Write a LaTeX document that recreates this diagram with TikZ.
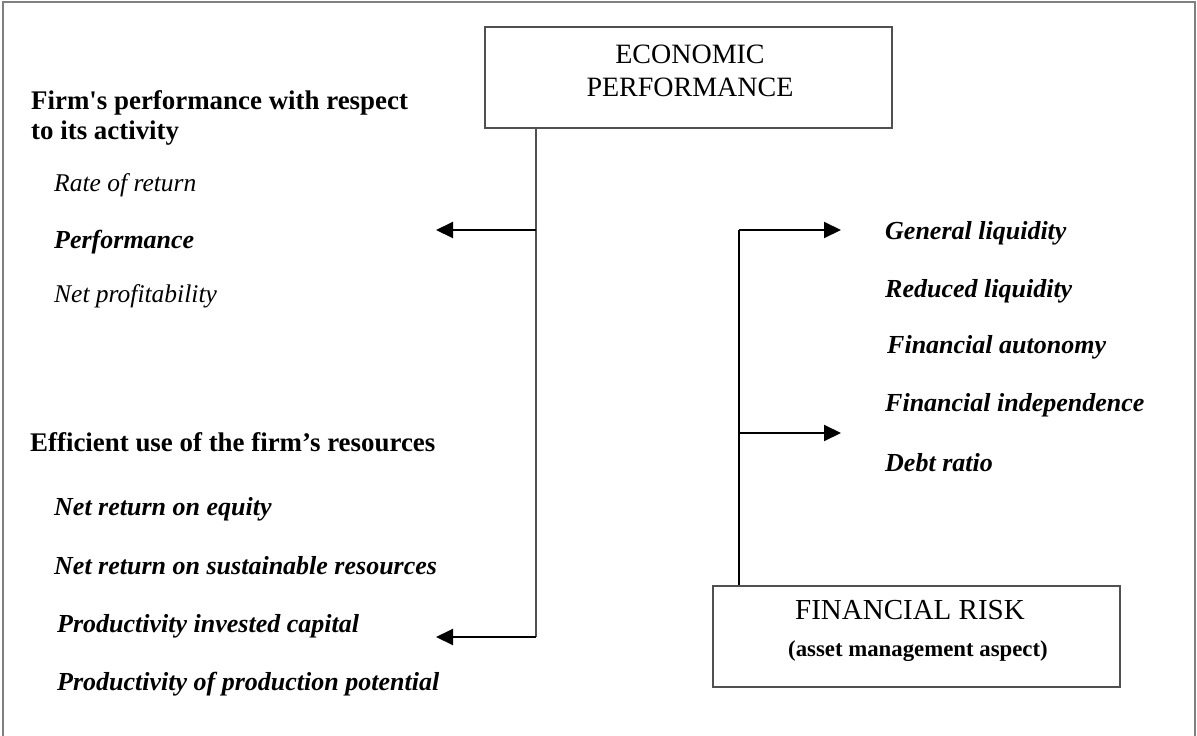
\documentclass[tikz,border=0pt]{standalone}
\usepackage{fontspec}
\setmainfont{Liberation Serif}
\usetikzlibrary{arrows.meta}
\definecolor{framegray}{HTML}{808080}
\definecolor{boxgray}{HTML}{505050}
\tikzset{
  x=1pt, y=-1pt,
  box/.style={draw=boxgray, line width=1.5pt, inner sep=0pt},
  boxtext/.style={anchor=base, inner sep=0pt, font=\fontsize{28}{33}\selectfont},
  subtext/.style={anchor=base, inner sep=0pt, font=\fontsize{22.8}{27}\selectfont\bfseries},
  head/.style={anchor=base west, inner sep=0pt, font=\fontsize{26.9}{30}\selectfont\bfseries},
  itm/.style={anchor=base west, inner sep=0pt, font=\fontsize{25.5}{30}\selectfont\itshape},
  itmb/.style={anchor=base west, inner sep=0pt, font=\fontsize{26}{30}\selectfont\bfseries\itshape},
  arr/.style={line width=2pt, -{Triangle[length=17pt,width=16pt]}},
  vline/.style={line width=1.5pt, draw=boxgray},
}
\begin{document}
\begin{tikzpicture}
\useasboundingbox (0,0) rectangle (1197,736);
% outer frame
\draw[framegray, line width=1.6pt] (3,737) -- (3,2) -- (1195,2) -- (1195,737);

% boxes
\node[box, minimum width=407pt, minimum height=101pt] (econ) at (688.5,77.5) {};
\node[boxtext] (econ1) at (690,63) {ECONOMIC};
\node[boxtext] (econ2) at (690,96) {PERFORMANCE};

\node[box, minimum width=407pt, minimum height=101pt] (risk) at (916.5,636.5) {};
\node[boxtext, font=\fontsize{29}{33}\selectfont] (risk1) at (910,619) {FINANCIAL RISK};
\node[subtext] (risk2) at (918,656) {(asset management aspect)};

% left texts
\node[head] (h1a) at (31,109) {Firm\textquotesingle s performance with respect};
\node[head] (h1b) at (31,139) {to its activity};
\node[itm]  (l1) at (54,191) {Rate of return};
\node[itmb] (l2) at (54,248) {Performance};
\node[itm]  (l3) at (54,302) {Net profitability};

\node[head] (h2) at (30,451) {Efficient use of the firm’s resources};
\node[itmb] (l4) at (54,515) {Net return on equity};
\node[itmb] (l5) at (54,574) {Net return on sustainable resources};
\node[itmb] (l6) at (57,632) {Productivity invested capital};
\node[itmb] (l7) at (57,690) {Productivity of production potential};

% right texts
\node[itmb] (r1) at (885,239) {General liquidity};
\node[itmb] (r2) at (885,297) {Reduced liquidity};
\node[itmb] (r3) at (887,353) {Financial autonomy};
\node[itmb] (r4) at (885,411) {Financial independence};
\node[itmb] (r5) at (885,471) {Debt ratio};

% connector points
\coordinate (lt) at (536,230);
\coordinate (lb) at (536,637);
\coordinate (la1) at (436,230);
\coordinate (la2) at (436,637);
\coordinate (rt) at (739,230);
\coordinate (rm) at (739,433);
\coordinate (ra1) at (841,230);
\coordinate (ra2) at (841,433);

% connectors
\draw[vline] (econ.south -| lt) -- (lb);
\draw[arr] (lt) -- (la1);
\draw[arr] (lb) -- (la2);
\draw[line width=1.8pt] (rt) -- (risk.north -| rt);
\draw[arr] (rt) -- (ra1);
\draw[arr] (rm) -- (ra2);
\end{tikzpicture}
\end{document}
